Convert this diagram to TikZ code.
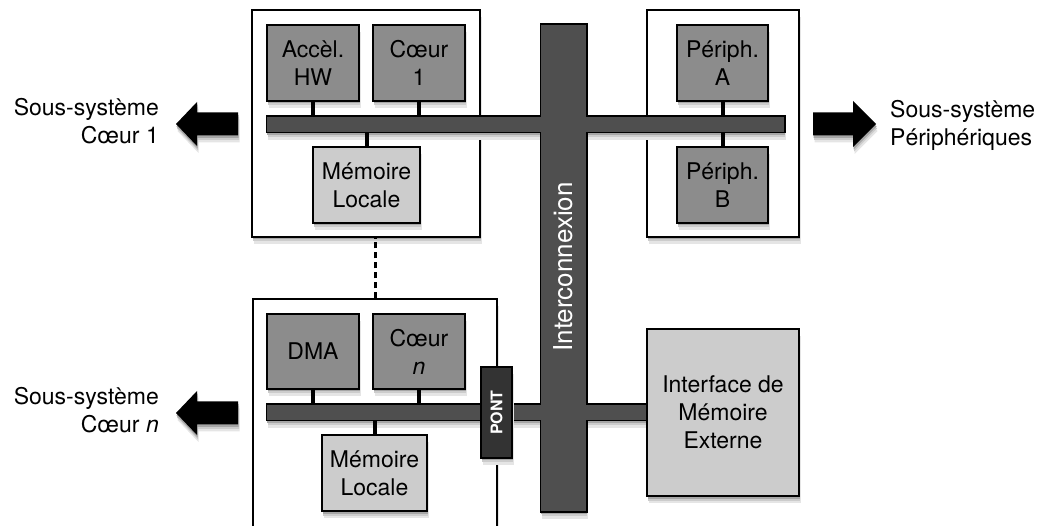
\documentclass[tikz,border=0pt]{standalone}
\usepackage{fontspec}
\setmainfont{TeX Gyre Heros}
\usetikzlibrary{shadows}
\pgfdeclarelayer{back}
\pgfdeclarelayer{busline}
\pgfsetlayers{back,busline,main}
\definecolor{cdark}{gray}{0.55}
\definecolor{clight}{gray}{0.80}
\definecolor{cbus}{gray}{0.31}
\definecolor{cpont}{gray}{0.2}
\definecolor{sh1}{gray}{0.90}
\definecolor{sh2}{gray}{0.80}
\definecolor{sh3}{gray}{0.65}
\tikzset{
  soft/.style={drop shadow={opacity=1,fill=sh1,shadow xshift=1.5pt,shadow yshift=-7pt},
               drop shadow={opacity=1,fill=sh2,shadow xshift=1pt,shadow yshift=-4.5pt},
               drop shadow={opacity=1,fill=sh3,shadow xshift=0.5pt,shadow yshift=-2.5pt}},
  txt/.style={font=\fontsize{23}{28}\selectfont},
  frame/.style={draw=black,line width=1.3pt,fill=white,inner sep=0pt,soft},
  unit/.style={draw=black,line width=1.3pt,fill=cdark,inner sep=0pt,align=center,txt,soft},
  mem/.style={unit,fill=clight},
  busbar/.style={fill=cbus,inner sep=0pt},
  stub/.style={line width=4pt},
  label/.style={txt,inner sep=0pt},
}
\begin{document}
\begin{tikzpicture}[x=1pt,y=-1pt]
\useasboundingbox (0,0) rectangle (1042,526);
\begin{pgfonlayer}{back}
\node[frame,minimum width=228pt,minimum height=227pt] (sub1) at (366,123.5) {};
\node[frame,minimum width=152pt,minimum height=227pt] (per) at (723,123.5) {};
\node[frame,minimum width=244pt,minimum height=246pt] (subn) at (375,422) {};
\end{pgfonlayer}

% units
\node[unit,minimum width=92pt,minimum height=76pt] (acc) at (313,63) {Accèl.\\HW};
\node[unit,minimum width=92pt,minimum height=76pt] (c1) at (419,63) {Cœur\\1};
\node[mem,minimum width=107pt,minimum height=76pt] (m1) at (366.5,185) {Mémoire\\Locale};
\node[unit,minimum width=91pt,minimum height=76pt] (pa) at (722.5,63) {Périph.\\A};
\node[unit,minimum width=91pt,minimum height=76pt] (pb) at (722.5,185) {Périph.\\B};
\node[unit,minimum width=92pt,minimum height=75pt] (dma) at (313,351.5) {DMA};
\node[unit,minimum width=92pt,minimum height=75pt] (cn) at (419,351.5) {Cœur\\\textit{n}};
\node[mem,minimum width=105pt,minimum height=76pt] (mn) at (374.5,473) {Mémoire\\Locale};

% buses
\node[busbar,minimum width=45pt,minimum height=486pt] (ic) at (563.5,268) {};
\node[busbar,minimum width=517pt,minimum height=15pt] (b1) at (525.5,124.5) {};
\node[busbar,minimum width=230pt,minimum height=15pt] (bn) at (382,412.5) {};
\node[busbar,minimum width=150pt,minimum height=15pt] (bl) at (572,412.5) {};
\node[rotate=90,text=white,inner sep=0pt,font=\fontsize{26}{30}\selectfont] (ict) at (563.5,267) {Interconnexion};
\begin{pgfonlayer}{busline}
\foreach \n in {ic,b1,bn,bl}
  \fill[sh1] ([xshift=1.5pt,yshift=-8pt]\n.north west) rectangle ([xshift=1.5pt,yshift=-8pt]\n.south east);
\foreach \n in {ic,b1,bn,bl}
  \fill[sh2] ([xshift=1pt,yshift=-5pt]\n.north west) rectangle ([xshift=1pt,yshift=-5pt]\n.south east);
\foreach \n in {ic,b1,bn,bl}
  \fill[sh3] ([xshift=.5pt,yshift=-3pt]\n.north west) rectangle ([xshift=.5pt,yshift=-3pt]\n.south east);
\foreach \n in {ic,b1,bn,bl}
  \draw[line width=2.6pt] (\n.north west) rectangle (\n.south east);
\end{pgfonlayer}

% stubs
\draw[stub] (acc.south) -- (acc.south |- b1.north);
\draw[stub] (c1.south) -- (c1.south |- b1.north);
\draw[stub] (m1.north) -- (m1.north |- b1.south);
\draw[stub] (pa.south) -- (pa.south |- b1.north);
\draw[stub] (pb.north) -- (pb.north |- b1.south);
\draw[stub] (dma.south) -- (dma.south |- bn.north);
\draw[stub] (cn.south) -- (cn.south |- bn.north);
\draw[stub] (mn.north) -- (mn.north |- bn.south);

% dashed link between subsystems
\draw[line width=3pt,dash pattern=on 6pt off 4pt] (subn.north) -- (subn.north |- sub1.south);

% bridge
\node[rotate=90,draw=black,line width=1.3pt,fill=cpont,text=white,inner sep=0pt,
      minimum width=91pt,minimum height=31pt,soft,font=\bfseries\fontsize{16}{16}\selectfont] (pont) at (496.5,412.5) {PONT};

% external memory interface
\node[mem,minimum width=152pt,minimum height=167pt] (emi) at (723,412.5) {Interface de\\Mémoire\\Externe};

% big arrows
\fill[black,soft] (238,112.5) -- (197,112.5) -- (197,102) -- (176,124) -- (197,146) -- (197,135.5) -- (238,135.5) -- cycle;
\fill[black,soft] (238,401.5) -- (197,401.5) -- (197,391) -- (176,413) -- (197,435) -- (197,424.5) -- (238,424.5) -- cycle;
\fill[black,soft] (813,112.5) -- (853,112.5) -- (853,101) -- (876,124) -- (853,147) -- (853,135.5) -- (813,135.5) -- cycle;

% labels
\node[label,align=right,anchor=east] (l1) at (159,121) {Sous-système\\Cœur 1};
\node[label,align=right,anchor=east] (ln) at (159,410) {Sous-système\\Cœur \textit{n}};
\node[label,align=left,anchor=west] (lp) at (890,125) {Sous-système\\Périphériques};
\end{tikzpicture}
\end{document}
